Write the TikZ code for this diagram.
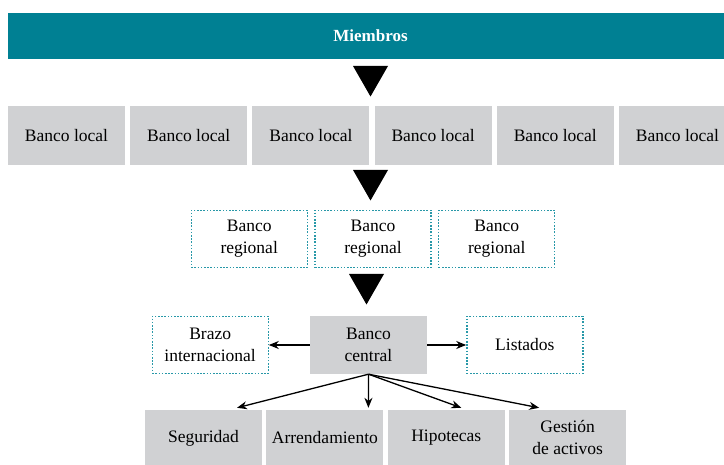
\documentclass[tikz,border=0pt]{standalone}
\usepackage{fontspec}
\setmainfont{Liberation Serif}
\usetikzlibrary{positioning,arrows.meta}
\definecolor{tealbar}{RGB}{0,128,147}
\definecolor{boxgray}{RGB}{208,209,211}
\definecolor{dotteal}{RGB}{40,152,168}

\begin{document}
\begin{tikzpicture}[x=1pt, y=-1pt,
        node distance=4.8pt, font=\fontsize{17.5}{22}\selectfont,
        bar/.style={rectangle, fill=tealbar, text=white, minimum width=725pt, minimum height=46pt, inner sep=0pt, font=\fontsize{17}{20}\selectfont\bfseries},
        localbox/.style={rectangle, fill=boxgray, minimum width=117pt, minimum height=59pt, inner sep=0pt, align=center},
        regbox/.style={rectangle, draw=dotteal, dash pattern=on 1.6pt off 1.6pt, line width=1.3pt, minimum width=116pt, minimum height=57pt, inner sep=0pt, align=center},
        arr/.style={-{Stealth[length=10pt,width=8pt]}, line width=1.3pt}
    ]
        \useasboundingbox (0,0) rectangle (724,465);
        \node[bar] (miembros) at (370.5,36) {Miembros};
        % bancos locales
        \node[localbox] (l1) at (66.5,135.5) {Banco local};
        \node[localbox, right=of l1] (l2) {Banco local};
        \node[localbox, right=of l2] (l3) {Banco local};
        \node[localbox, right=of l3] (l4) {Banco local};
        \node[localbox, right=of l4] (l5) {Banco local};
        \node[localbox, right=of l5] (l6) {Banco local};
        % bancos regionales
        \node[regbox] (r2) at (373,239) {Banco\\regional};
        \node[regbox, left=6.5pt of r2] (r1) {Banco\\regional};
        \node[regbox, right=6.5pt of r2] (r3) {Banco\\regional};
        % banco central
        \node[localbox, minimum height=58pt] (cen) at (368.5,345) {Banco\\central};
        \node[regbox, left=41pt of cen] (brazo) {Brazo\\internacional};
        \node[regbox, right=39pt of cen] (listados) {Listados};
        % filiales
        \node[localbox, minimum height=55pt] (seg) at (203.5,438) {Seguridad};
        \node[localbox, minimum height=55pt, right=4pt of seg] (arre) {Arrendamiento};
        \node[localbox, minimum height=55pt, right=4pt of arre] (hip) {Hipotecas};
        \node[localbox, minimum height=55pt, right=4pt of hip] (gest) {Gesti\'on\\de activos};
        % flechas grandes
        \foreach \tx/\ty in {370.5/66, 370.5/170, 366.5/274}
            \fill (\tx-17.5,\ty) -- (\tx+17.5,\ty) -- (\tx,\ty+30.5) -- cycle;
        \draw[arr] (cen.west) -- (brazo.east);
        \draw[arr] (cen.east) -- (listados.west);
        \draw[arr] (cen.south) -- ([xshift=33.5pt, yshift=2.5pt]seg.north);
        \draw[arr] (cen.south) -- ([xshift=43.5pt, yshift=2.5pt]arre.north);
        \draw[arr] (cen.south) -- ([xshift=15pt, yshift=2.5pt]hip.north);
        \draw[arr] (cen.south) -- ([xshift=-28.5pt, yshift=2.5pt]gest.north);
    \end{tikzpicture}
\end{document}
